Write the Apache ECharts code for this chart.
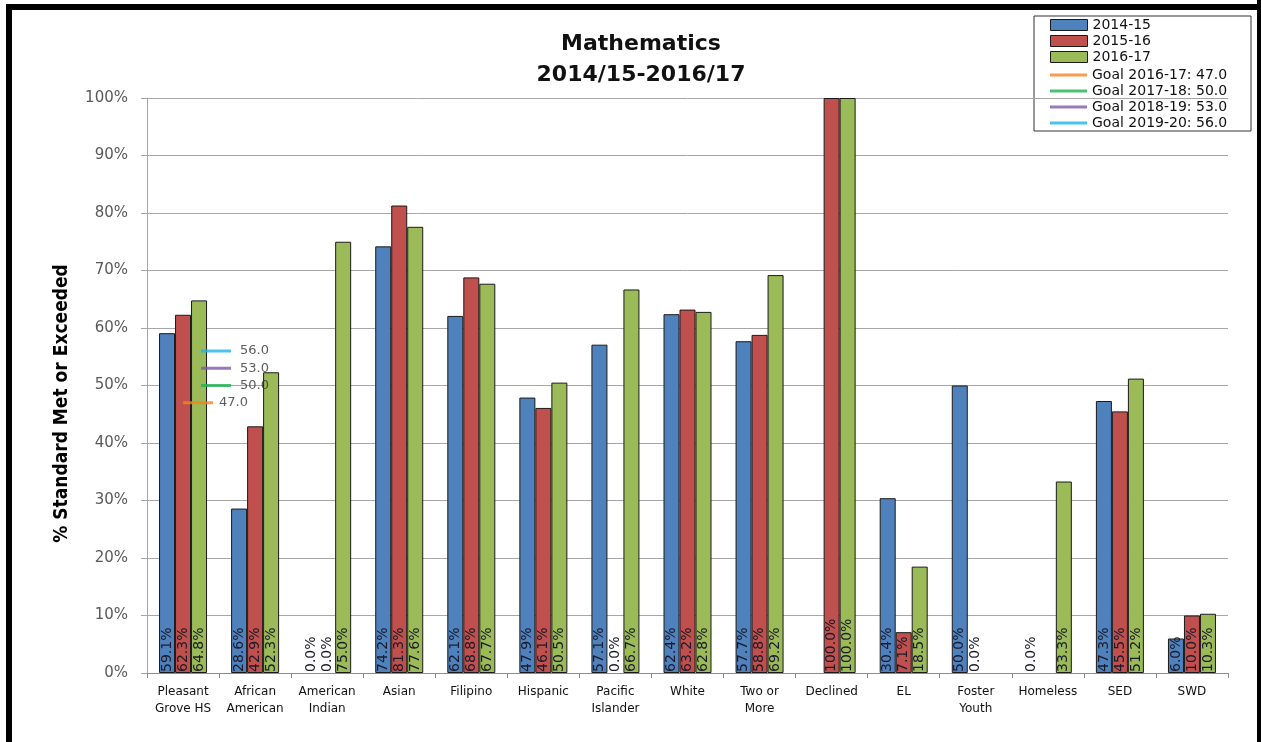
<!DOCTYPE html>
<html>
<head>
<meta charset="utf-8">
<script src="https://cdn.jsdelivr.net/npm/echarts@6/dist/echarts.min.js"></script>
<style>
html,body{margin:0;padding:0;background:#fff;}
#chart{width:1261px;height:742px;}
</style>
</head>
<body>
<div id="chart"></div>
<script>
var categories = ['Pleasant\nGrove HS','African\nAmerican','American\nIndian','Asian','Filipino','Hispanic','Pacific\nIslander','White','Two or\nMore','Declined','EL','Foster\nYouth','Homeless','SED','SWD'];
var s2014 = [59.1, 28.6, 0.0, 74.2, 62.1, 47.9, 57.1, 62.4, 57.7, null, 30.4, 50.0, 0.0, 47.3, 6.0];
var s2015 = [62.3, 42.9, 0.0, 81.3, 68.8, 46.1, 0.0, 63.2, 58.8, 100.0, 7.1, 0.0, null, 45.5, 10.0];
var s2016 = [64.8, 52.3, 75.0, 77.6, 67.7, 50.5, 66.7, 62.8, 69.2, 100.0, 18.5, null, 33.3, 51.2, 10.3];
var barNames = ['2014-15','2015-16','2016-17'];
var goalNames = ['Goal 2016-17: 47.0','Goal 2017-18: 50.0','Goal 2018-19: 53.0','Goal 2019-20: 56.0'];
var goalValues = [47.0, 50.0, 53.0, 56.0];
var yTicks = [0,10,20,30,40,50,60,70,80,90,100];

var barColors = ['#4F81BD','#C0504D','#9BBB59'];
var goalColors = ['#F58220','#1FB254','#7B5AA6','#1EB4E8'];
var goalOffsets = [15, 33, 33, 33];
var goalLabelGap = [6, 9, 9, 9];

var chart = echarts.init(document.getElementById('chart'), null, {renderer:'canvas'});

var barSeries = [s2014, s2015, s2016].map(function(d, i){
  return {
    name: barNames[i], type: 'bar',
    data: d.map(function(v){
      return v === 0 ? {value: v, itemStyle: {borderWidth: 0}} : v;
    }),
    barWidth: 16, barGap: '0%',
    itemStyle: {color: barColors[i], borderColor: '#1a1a1a', borderWidth: 1},
    label: {
      show: true, position: 'insideBottom', rotate: 90, align: 'left', verticalAlign: 'middle',
      distance: 1,
      fontFamily: 'DejaVu Sans', fontSize: 14, color: '#1a1a2a',
      formatter: function(p){ return p.value == null ? '' : p.value.toFixed(1) + '%'; }
    },
    emphasis: {disabled: true}
  };
});

var goalSeries = goalValues.map(function(v, i){
  return {
    name: goalNames[i], type: 'scatter', data: [[0, v]],
    symbol: 'rect', symbolSize: [30, 3], symbolOffset: [goalOffsets[i], 0],
    itemStyle: {color: goalColors[i]},
    label: {
      show: true, position: 'right', distance: goalLabelGap[i],
      fontFamily: 'DejaVu Sans', fontSize: 13, color: '#333',
      formatter: function(p){ return p.value[1].toFixed(1); }
    },
    z: 5
  };
});

var legendText = {fontFamily: 'DejaVu Sans', fontSize: 14, color: '#111'};

chart.setOption({
  backgroundColor: '#fff',
  animation: false,
  title: {
    text: 'Mathematics\n2014/15-2016/17',
    left: 636, top: 24, textAlign: 'center',
    textStyle: {fontFamily: 'DejaVu Sans', fontWeight: 'bold', fontSize: 22, lineHeight: 31, color: '#111'}
  },
  legend: [
    {
      data: barNames, orient: 'vertical', left: 1045, top: 13,
      itemWidth: 37, itemHeight: 11, itemGap: 2, icon: 'rect',
      textStyle: legendText, selectedMode: false,
      itemStyle: {borderColor: '#1a1a1a', borderWidth: 1}
    },
    {
      data: goalNames, orient: 'vertical', left: 1045, top: 63,
      itemWidth: 37, itemHeight: 3, itemGap: 2, icon: 'rect',
      textStyle: legendText, selectedMode: false
    }
  ],
  grid: {left: 147, right: 33, top: 98, bottom: 69, containLabel: false},
  xAxis: {
    type: 'category', data: categories, boundaryGap: true,
    axisLine: {lineStyle: {color: '#8c8c8c'}},
    axisTick: {show: true, interval: 0, length: 5, lineStyle: {color: '#8c8c8c'}},
    axisLabel: {interval: 0, fontFamily: 'DejaVu Sans', fontSize: 12, lineHeight: 17, color: '#111', margin: 10}
  },
  yAxis: {
    type: 'value', min: 0, max: 100, interval: 10,
    name: '% Standard Met or Exceeded', nameLocation: 'middle', nameGap: 75, nameRotate: 90,
    nameTextStyle: {fontFamily: "'DejaVu Sans Condensed', 'Liberation Sans', sans-serif", fontWeight: 'bold', fontSize: 19, color: '#000', padding: [0, 36, 0, 0]},
    axisLine: {show: true, lineStyle: {color: '#a6a6a6'}},
    axisTick: {show: true, length: 6, lineStyle: {color: '#a6a6a6'}},
    splitLine: {lineStyle: {color: '#a6a6a6'}},
    axisLabel: {
      fontFamily: 'DejaVu Sans', fontSize: 15, color: '#595959', margin: 19,
      formatter: function(v){ return yTicks.indexOf(v) >= 0 ? v + '%' : ''; }
    }
  },
  graphic: [
    {type: 'rect', shape: {x: 1034, y: 16, width: 217, height: 115}, style: {fill: '#fff', stroke: '#333', lineWidth: 1}, z: 0, zlevel: 0},
    {type: 'rect', shape: {x: 6, y: 4, width: 1255, height: 6}, style: {fill: '#000'}, z: 100},
    {type: 'rect', shape: {x: 6, y: 4, width: 6, height: 738}, style: {fill: '#000'}, z: 100},
    {type: 'rect', shape: {x: 1257, y: 0, width: 4, height: 742}, style: {fill: '#000'}, z: 100}
  ],
  series: barSeries.concat(goalSeries)
});
</script>
</body>
</html>
